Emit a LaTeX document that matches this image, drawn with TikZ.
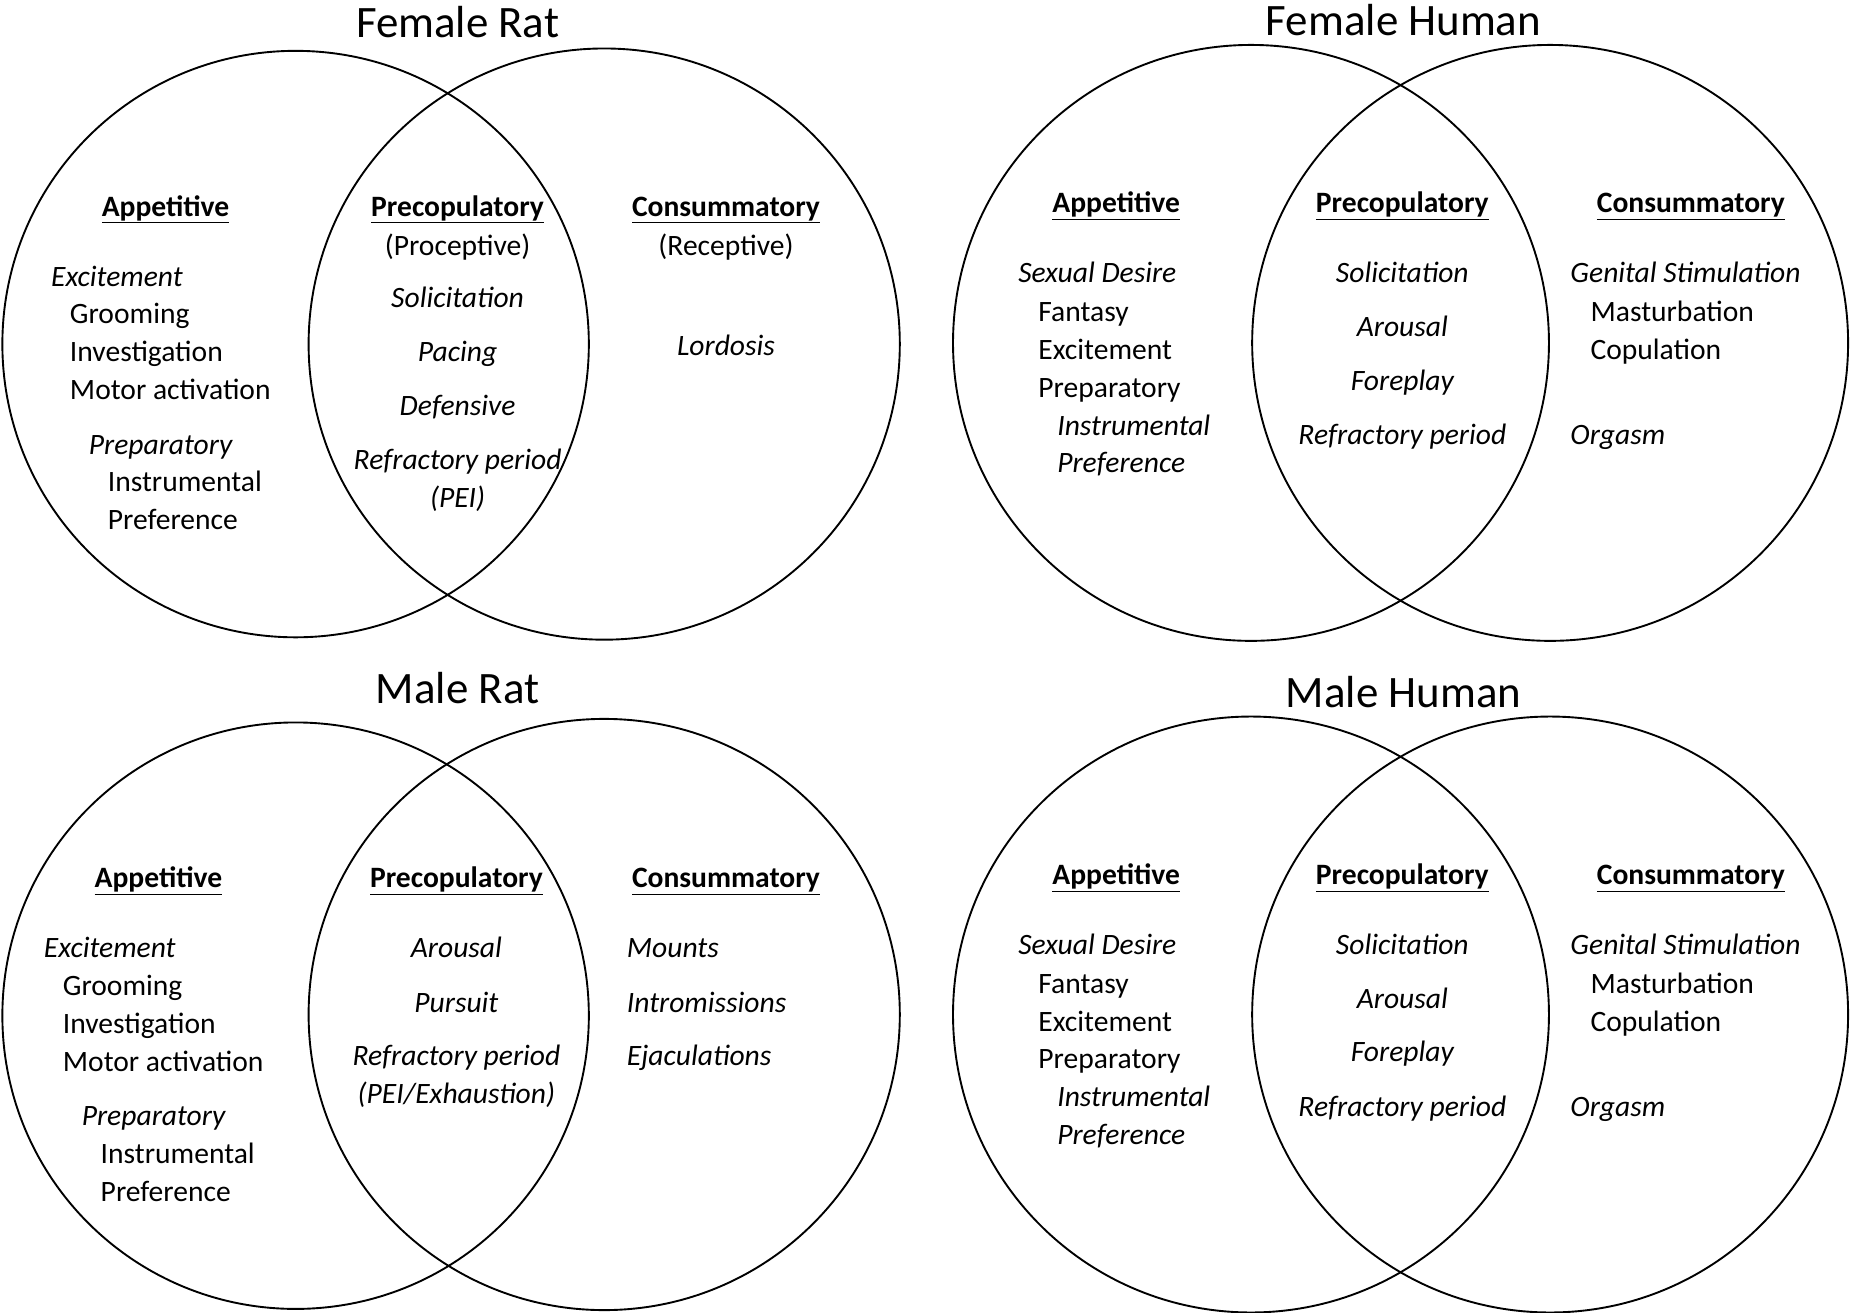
\documentclass[tikz,border=0pt]{standalone}
\usepackage{fontspec}
\setmainfont{Carlito}
\begin{document}
\begin{tikzpicture}[x=1pt,y=-1pt,
  circ/.style={draw,line width=1.6pt},
  t/.style={font=\fontsize{25}{30}\selectfont,inner sep=0pt,anchor=base west},
  c/.style={font=\fontsize{25}{30}\selectfont,inner sep=0pt,anchor=base},
  h/.style={font=\fontsize{25}{30}\selectfont\bfseries,inner sep=0pt,anchor=base},
  ttl/.style={font=\fontsize{38}{44}\selectfont,inner sep=0pt,anchor=base}]
\useasboundingbox (0,0) rectangle (1568,1110);
% circles
\draw[circ] (250,291) circle (248);
\draw[circ] (511,291) circle (250);
\draw[circ] (1058,290) circle (252);
\draw[circ] (1311,290) circle (252);
\draw[circ] (250,859) circle (248);
\draw[circ] (511,858) circle (250);
\draw[circ] (1058,858) circle (252);
\draw[circ] (1311,858) circle (252);
% Female Rat
\node[ttl] (t1) at (387,32) {Female Rat};
\node[h] (a1) at (140,183) {\underline{Appetitive}};
\node[t] (a1a) at (43,242) {\itshape Excitement};
\node[t] (a1b) at (59,274) {Grooming};
\node[t] (a1c) at (59,306) {Investigation};
\node[t] (a1d) at (59,338) {Motor activation};
\node[t] (a1e) at (75,384) {\itshape Preparatory};
\node[t] (a1f) at (91,416) {Instrumental};
\node[t] (a1g) at (91,448) {Preference};
\node[h] (p1) at (387,183) {\underline{Precopulatory}};
\node[c] (p1a) at (387,216) {(Proceptive)};
\node[c] (p1b) at (387,260) {\itshape Solicitation};
\node[c] (p1c) at (387,306) {\itshape Pacing};
\node[c] (p1d) at (387,351) {\itshape Defensive};
\node[c] (p1e) at (387,397) {\itshape Refractory period};
\node[c] (p1f) at (387,429) {\itshape (PEI)};
\node[h] (c1) at (614,183) {\underline{Consummatory}};
\node[c] (c1a) at (614,216) {(Receptive)};
\node[c] (c1b) at (614,301) {\itshape Lordosis};
% Male Rat
\node[ttl] (t3) at (387,595) {Male Rat};
\node[h] (a3) at (134,751) {\underline{Appetitive}};
\node[t] (a3a) at (37,810) {\itshape Excitement};
\node[t] (a3b) at (53,842) {Grooming};
\node[t] (a3c) at (53,874) {Investigation};
\node[t] (a3d) at (53,906) {Motor activation};
\node[t] (a3e) at (69,952) {\itshape Preparatory};
\node[t] (a3f) at (85,984) {Instrumental};
\node[t] (a3g) at (85,1016) {Preference};
\node[h] (p3) at (386,751) {\underline{Precopulatory}};
\node[c] (p3a) at (386,810) {\itshape Arousal};
\node[c] (p3b) at (386,856) {\itshape Pursuit};
\node[c] (p3c) at (386,901) {\itshape Refractory period};
\node[c] (p3d) at (386,933) {\itshape (PEI/Exhaustion)};
\node[h] (c3) at (614,751) {\underline{Consummatory}};
\node[t] (c3a) at (530,810) {\itshape Mounts};
\node[t] (c3b) at (530,856) {\itshape Intromissions};
\node[t] (c3c) at (530,901) {\itshape Ejaculations};
% Humans
\foreach \dy/\ti/\nm in {0/Female Human/f, 568/Male Human/m}{
\node[ttl] (t\nm) at (1187,30+\dy) {\ti};
\node[h] (a\nm) at (944,180+\dy) {\underline{Appetitive}};
\node[t] (a\nm1) at (861,239+\dy) {\itshape Sexual Desire};
\node[t] (a\nm2) at (878,272+\dy) {Fantasy};
\node[t] (a\nm3) at (878,304+\dy) {Excitement};
\node[t] (a\nm4) at (878,336+\dy) {Preparatory};
\node[t] (a\nm5) at (894,368+\dy) {\itshape Instrumental};
\node[t] (a\nm6) at (894,400+\dy) {\itshape Preference};
\node[h] (p\nm) at (1186,180+\dy) {\underline{Precopulatory}};
\node[c] (p\nm1) at (1186,239+\dy) {\itshape Solicitation};
\node[c] (p\nm2) at (1186,285+\dy) {\itshape Arousal};
\node[c] (p\nm3) at (1186,330+\dy) {\itshape Foreplay};
\node[c] (p\nm4) at (1186,376+\dy) {\itshape Refractory period};
\node[h] (c\nm) at (1430,180+\dy) {\underline{Consummatory}};
\node[t] (c\nm1) at (1328,239+\dy) {\itshape Genital Stimulation};
\node[t] (c\nm2) at (1345,272+\dy) {Masturbation};
\node[t] (c\nm3) at (1345,304+\dy) {Copulation};
\node[t] (c\nm4) at (1328,376+\dy) {\itshape Orgasm};
}
\end{tikzpicture}
\end{document}
